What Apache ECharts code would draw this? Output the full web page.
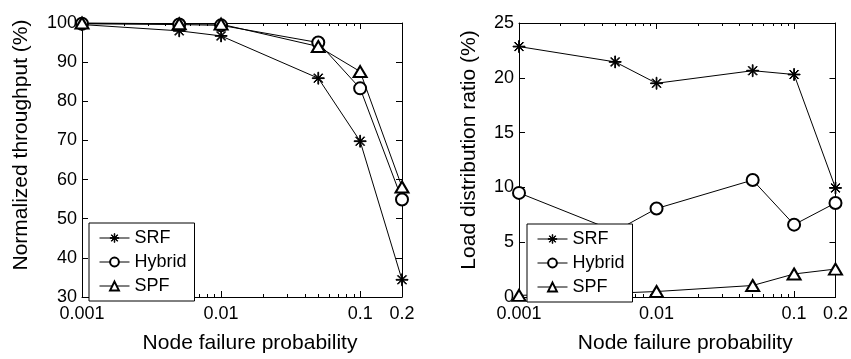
<!DOCTYPE html>
<html>
<head>
<meta charset="utf-8">
<script src="https://cdn.jsdelivr.net/npm/echarts@6/dist/echarts.min.js"></script>
<style>html,body{margin:0;padding:0;background:#fff}#c{width:851px;height:359px}</style>
</head>
<body>
<div id="c"></div>
<script>
// ---- data ----
const xValues = [0.001, 0.005, 0.01, 0.05, 0.1, 0.2];
const seriesNames = ['SRF', 'Hybrid', 'SPF'];
const thrSRF    = [99.6, 98.0, 96.7, 85.9, 69.8, 34.4];
const thrHybrid = [99.8, 99.6, 99.4, 95.0, 83.3, 54.9];
const thrSPF    = [100.0, 99.8, 99.7, 94.0, 87.6, 58.1];
const ldrSRF    = [22.85, 21.45, 19.5, 20.65, 20.3, 9.95];
const ldrHybrid = [9.5, 6.0, 8.07, 10.67, 6.6, 8.58];
const ldrSPF    = [0.15, 0.35, 0.5, 1.05, 2.1, 2.55];
const xTickLabels = [0.001, 0.01, 0.1, 0.2];
const xMajorTicks = [0.001, 0.01, 0.1];
const xMinorTicks = [0.002,0.003,0.004,0.005,0.006,0.007,0.008,0.009,0.02,0.03,0.04,0.05,0.06,0.07,0.08,0.09];
const leftTitleX = 'Node failure probability';
const leftTitleY = 'Normalized throughput (%)';
const rightTitleY = 'Load distribution ratio (%)';

// ---- styling ----
const FONT = '"Liberation Sans", Arial, Helvetica, sans-serif';
const t = 0.065, d1 = 0.707 - t * 0.707, d2 = 0.707 + t * 0.707;
const star = 'path://M-' + t + ',-1 L' + t + ',-1 L' + t + ',1 L-' + t + ',1 Z M-1,-' + t + ' L1,-' + t + ' L1,' + t + ' L-1,' + t + ' Z ' +
  'M-' + d1 + ',-' + d2 + ' L' + d2 + ',' + d1 + ' L' + d1 + ',' + d2 + ' L-' + d2 + ',-' + d1 + ' Z ' +
  'M' + d2 + ',-' + d1 + ' L-' + d1 + ',' + d2 + ' L-' + d2 + ',' + d1 + ' L' + d1 + ',-' + d2 + ' Z';
const symbols = { SRF: star, Hybrid: 'emptyCircle', SPF: 'emptyTriangle' };
const sizes = { SRF: 12, Hybrid: 12, SPF: [13, 11] };

function fmt(v) { return String(parseFloat(Number(v).toPrecision(3))); }

const grids = [
  { left: 82, top: 23, width: 320, height: 279 },
  { left: 519, top: 23, width: 320, height: 279 }
];

function xAxesFor(g) {
  const base = { type: 'log', gridIndex: g, min: 0.001, max: 0.2, logBase: 10, splitLine: { show: false } };
  return [
    Object.assign({}, base, {
      position: 'bottom',
      axisLine: { show: true, lineStyle: { color: '#000', width: 1 } },
      axisTick: { show: true, inside: true, length: 6, customValues: xMajorTicks, lineStyle: { color: '#000' } },
      axisLabel: { show: true, customValues: xTickLabels, formatter: fmt, color: '#000', fontSize: 18, fontFamily: FONT, margin: 8, showMaxLabel: true, showMinLabel: true },
      name: leftTitleX, nameLocation: 'middle', nameGap: 36,
      nameTextStyle: { color: '#000', fontSize: 21, fontFamily: FONT, padding: [0, 0, 0, 16] }
    }),
    Object.assign({}, base, {
      position: 'bottom',
      axisLine: { show: false },
      axisTick: { show: true, inside: true, length: 3, customValues: xMinorTicks, lineStyle: { color: '#000' } },
      axisLabel: { show: false }
    }),
    Object.assign({}, base, {
      position: 'top',
      axisLine: { show: true, lineStyle: { color: '#000', width: 1 } },
      axisTick: { show: true, inside: true, length: 6, customValues: xMajorTicks, lineStyle: { color: '#000' } },
      axisLabel: { show: false }
    }),
    Object.assign({}, base, {
      position: 'top',
      axisLine: { show: false },
      axisTick: { show: true, inside: true, length: 3, customValues: xMinorTicks, lineStyle: { color: '#000' } },
      axisLabel: { show: false }
    })
  ];
}

function yAxesFor(g, min, max, interval, title, gap, shift) {
  return [
    {
      type: 'value', gridIndex: g, position: 'left', min: min, max: max, interval: interval,
      splitLine: { show: false },
      axisLine: { show: true, lineStyle: { color: '#000', width: 1 } },
      axisTick: { show: true, inside: true, length: 6, lineStyle: { color: '#000' } },
      axisLabel: { color: '#000', fontSize: 18, fontFamily: FONT, margin: 5 },
      name: title, nameLocation: 'middle', nameGap: gap,
      nameTextStyle: { color: '#000', fontSize: 21, fontFamily: FONT, padding: [0, 0, 0, shift] }
    },
    {
      type: 'value', gridIndex: g, position: 'right', min: min, max: max, interval: interval,
      splitLine: { show: false },
      axisLine: { show: true, lineStyle: { color: '#000', width: 1 } },
      axisTick: { show: true, inside: true, length: 6, lineStyle: { color: '#000' } },
      axisLabel: { show: false }
    }
  ];
}

function mkSeries(name, vals, xi, yi) {
  return {
    type: 'line', name: name, xAxisIndex: xi, yAxisIndex: yi,
    data: xValues.map((x, i) => [x, vals[i]]),
    symbol: symbols[name], symbolSize: sizes[name],
    showAllSymbol: true, clip: false,
    lineStyle: { color: '#000', width: 1 },
    itemStyle: { color: '#000', borderColor: '#000', borderWidth: 1 },
    emphasis: { disabled: true },
    animation: false
  };
}

const legendBase = {
  orient: 'vertical', selectedMode: false,
  backgroundColor: '#fff', borderColor: '#000', borderWidth: 1, borderRadius: 0,
  padding: [6, 8, 6, 10], itemWidth: 30, itemHeight: 11, itemGap: 6,
  itemStyle: { borderWidth: 1 },
  lineStyle: { width: 1 },
  textStyle: { color: '#000', fontSize: 18, fontFamily: FONT },
  data: seriesNames
};

const option = {
  animation: false,
  textStyle: { fontFamily: FONT },
  grid: grids,
  legend: [
    Object.assign({}, legendBase, { left: 89, top: 223 }),
    Object.assign({}, legendBase, { left: 527, top: 224 })
  ],
  xAxis: xAxesFor(0).concat(xAxesFor(1)),
  yAxis: yAxesFor(0, 30, 100, 10, leftTitleY, 50, 30).concat(yAxesFor(1, 0, 25, 5, rightTitleY, 39, 20)),
  series: [
    mkSeries('SRF', thrSRF, 0, 0),
    mkSeries('Hybrid', thrHybrid, 0, 0),
    mkSeries('SPF', thrSPF, 0, 0),
    mkSeries('SRF', ldrSRF, 4, 2),
    mkSeries('Hybrid', ldrHybrid, 4, 2),
    mkSeries('SPF', ldrSPF, 4, 2)
  ]
};

const chart = echarts.init(document.getElementById('c'), null, { renderer: 'canvas' });
chart.setOption(option);
</script>
</body>
</html>
